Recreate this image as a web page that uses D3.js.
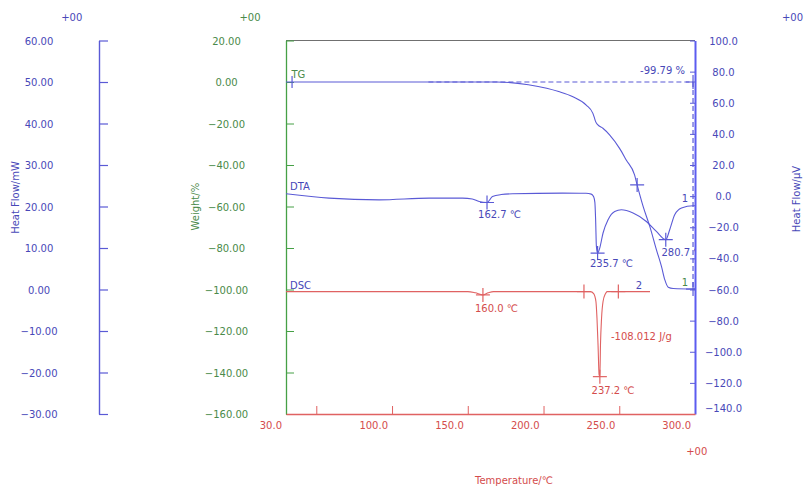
<!DOCTYPE html>
<html><head><meta charset="utf-8">
<script src="https://cdn.jsdelivr.net/npm/d3@7"></script>
<style>
body{margin:0;background:#fff;}
svg{display:block;}
text{font-family:"DejaVu Sans",Verdana,sans-serif;font-size:10px;}
</style></head>
<body><svg id="c" width="804" height="489"></svg>
<script>
// ---- data ----
const tempTickValues = [50, 100, 150, 200, 250, 300];
const tempLabelValues = [30, 100, 150, 200, 250, 300];
const heatFlowMwTicks = [60, 50, 40, 30, 20, 10, 0, -10, -20, -30];
const weightTicks = [20, 0, -20, -40, -60, -80, -100, -120, -140, -160];
const heatFlowUvTicks = [100, 80, 60, 40, 20, 0, -20, -40, -60, -80, -100, -120, -140];

const tgTemp   = [30, 169, 190, 202.1, 210, 219.4, 228.2, 232.6, 233.7, 234.4, 235.9, 239.2, 243.6, 250.2, 254.6, 260.1, 261.8, 265.8, 270.2, 274.6, 277.9, 280.1, 282.3, 285.6, 300];
const tgWeight = [0, 0, -1.3, -3.0, -4.6, -7.1, -11.1, -15.1, -17.5, -19.1, -20.7, -22.3, -25.5, -32.0, -37.6, -44.8, -49.6, -60.1, -69.7, -81.0, -89.0, -95.4, -98.9, -99.5, -99.79];

const dtaTemp   = [30, 58.5, 91.5, 124.5, 146.5, 153, 157.5, 162.7, 166.3, 172, 179.5, 212.5, 228, 231.5, 233.1, 233.9, 234.4, 234.9, 235.7, 237.1, 239.3, 242.6, 247.0, 251.4, 259.1, 267.9, 274.5, 280.7, 283.3, 286.6, 291.1, 298.7, 300];
const dtaSignal = [1.5, -1.3, -2.4, -1.3, -1.3, -1.8, -3.5, -4.1, -0.3, 1.0, 1.5, 1.9, 1.8, 1.3, -0.4, -4, -15.2, -32.3, -36.6, -33.4, -23.7, -15.2, -9.9, -8.8, -10.9, -16.3, -22.7, -28.0, -21.6, -12.0, -7.7, -6.2, -6.2];

const dscTemp   = [30, 150, 155, 160, 163.5, 167, 231, 233.1, 234.6, 235.3, 236.0, 236.7, 237.2, 237.6, 238.3, 239.3, 240.9, 242, 270.3];
const dscSignal = [-0.5, -0.5, -0.8, -1.3, -0.8, -0.5, -0.5, -1.0, -2.9, -7.0, -13.4, -20.6, -21.0, -13.4, -7.0, -2.9, -1.0, -0.5, -0.5];

const dtaPeakTemps  = [162.7, 235.7, 280.7];
const dtaPeakValues = [-4.1, -36.6, -28.0];
const dtaPeakLabels = ["162.7 ℃", "235.7 ℃", "280.7 ℃"];
const dscPeakTemps  = [160.0, 237.2];
const dscPeakValues = [-1.3, -21.0];
const dscPeakLabels = ["160.0 ℃", "237.2 ℃"];
const dscLimitTemps = [226.7, 249.4];
const dscEnthalpy = "-108.012 J/g";
const tgStepTemp = 261.8, tgStepWeight = -49.6;
const tgStart = 0, tgEnd = -99.79, tgMarkTemp = 298.7, tgDashFrom = 124;
const tgLossLabel = "-99.79 %";

// ---- styles ----
const BLUE = "#5a5ad6", BLUE_T = "#4848b8", GREEN = "#46a046", GREEN_T = "#4a8a4a", RED = "#e06262", RED_T = "#d44c4c";

const svg = d3.select("#c");
const L = 286, R = 695, T = 40.5, B = 414;
const x = d3.scaleLinear().domain([30, 300]).range([L, R]);
const yW = d3.scaleLinear().domain([20, -160]).range([T, B]);
const yMW = d3.scaleLinear().domain([60, -30]).range([T, B]);
const yUV = d3.scaleLinear().domain([100, -140]).range([T, B]);

svg.append("defs").append("clipPath").attr("id", "clip")
  .append("rect").attr("x", L).attr("y", T - 20).attr("width", R - L).attr("height", B - T + 20);

// top border
svg.append("line").attr("x1", L).attr("x2", R).attr("y1", T).attr("y2", T).attr("stroke", "#707070").attr("stroke-width", 1.2);

// left heat flow (mW) axis
const gMW = svg.append("g").attr("transform", "translate(99,0)")
  .call(d3.axisRight(yMW).tickValues(heatFlowMwTicks).tickSize(9).tickSizeOuter(0).tickFormat(d3.format(".2f")));
gMW.select(".domain").attr("stroke", BLUE).attr("stroke-width", 1.4);
gMW.selectAll(".tick line").attr("stroke", BLUE).attr("stroke-width", 1.2);
gMW.selectAll(".tick text").attr("fill", BLUE_T).attr("text-anchor", "middle").attr("x", -60).attr("dy", "0.35em").style("font-size", "10px").style("font-family", "DejaVu Sans");

// weight axis
const gW = svg.append("g").attr("transform", `translate(${L},0)`)
  .call(d3.axisRight(yW).tickValues(weightTicks).tickSize(8).tickSizeOuter(0).tickFormat(d3.format(".2f")));
gW.select(".domain").attr("stroke", GREEN).attr("stroke-width", 1.3);
gW.selectAll(".tick line").attr("stroke", GREEN);
gW.selectAll(".tick text").attr("fill", GREEN_T).attr("text-anchor", "middle").attr("x", -59.5).attr("dy", "0.35em").style("font-size", "10px").style("font-family", "DejaVu Sans");

// right heat flow (uV) axis
const gUV = svg.append("g").attr("transform", `translate(${R},0)`)
  .call(d3.axisLeft(yUV).tickValues(heatFlowUvTicks).tickSize(5).tickSizeOuter(0).tickFormat(d3.format(".1f")));
gUV.select(".domain").attr("stroke", "#5c5cf0").attr("stroke-width", 2);
gUV.selectAll(".tick line").attr("stroke", BLUE);
gUV.selectAll(".tick text").attr("fill", BLUE_T).attr("text-anchor", "middle").attr("x", 28.5)
  .attr("dy", d => d === -140 ? "-0.25em" : "0.35em").style("font-size", "10px").style("font-family", "DejaVu Sans");
gUV.selectAll(".tick").filter(d => d === -140).select("line").remove();

// bottom temperature axis
const gX = svg.append("g").attr("transform", `translate(0,${B})`)
  .call(d3.axisTop(x).tickValues(tempTickValues).tickSize(8).tickSizeOuter(0).tickFormat(""));
gX.select(".domain").attr("stroke", RED).attr("stroke-width", 1.4);
gX.selectAll(".tick line").attr("stroke", RED);
gX.selectAll(".tick").filter(d => d === 300).remove();
svg.append("g").selectAll("text").data(tempLabelValues).join("text")
  .attr("x", d => x(d) - 4).attr("y", 425.7).attr("dy", "0.35em").attr("text-anchor", "end")
  .attr("fill", RED_T).text(d => d3.format(".1f")(d));

// axis titles and exponents
svg.append("text").attr("x", 71.7).attr("y", 17.7).attr("dy", "0.35em").attr("text-anchor", "middle").attr("fill", BLUE_T).text("+00");
svg.append("text").attr("x", 250).attr("y", 17.7).attr("dy", "0.35em").attr("text-anchor", "middle").attr("fill", GREEN_T).text("+00");
svg.append("text").attr("x", 803).attr("y", 17.7).attr("dy", "0.35em").attr("text-anchor", "end").attr("fill", BLUE_T).text("+00");
svg.append("text").attr("x", 696.7).attr("y", 451.7).attr("dy", "0.35em").attr("text-anchor", "middle").attr("fill", RED_T).text("+00");
svg.append("text").attr("transform", "translate(15,197.5) rotate(-90)").attr("dy", "0.35em").attr("text-anchor", "middle").attr("fill", BLUE_T).text("Heat Flow/mW");
svg.append("text").attr("transform", "translate(195,206.7) rotate(-90)").attr("dy", "0.35em").attr("text-anchor", "middle").attr("fill", GREEN_T).text("Weight/%");
svg.append("text").attr("transform", "translate(796.7,199) rotate(-90)").attr("dy", "0.35em").attr("text-anchor", "middle").attr("fill", BLUE_T).text("Heat Flow/µV");
svg.append("text").attr("x", 514).attr("y", 484).attr("text-anchor", "middle").attr("fill", RED_T).text("Temperature/℃");

// plot content
const plot = svg.append("g").attr("clip-path", "url(#clip)");
const line = (xs, ys, yScale) => d3.line().curve(d3.curveMonotoneX)
  .x((d, i) => x(xs[i])).y((d, i) => yScale(ys[i]))(xs);

function cross(g, cx, cy, h, color, w) {
  g.append("line").attr("x1", cx - h).attr("x2", cx + h).attr("y1", cy).attr("y2", cy).attr("stroke", color).attr("stroke-width", w || 1.2);
  g.append("line").attr("x1", cx).attr("x2", cx).attr("y1", cy - h).attr("y2", cy + h).attr("stroke", color).attr("stroke-width", w || 1.2);
}

// TG dashed reference lines
plot.append("line").attr("x1", x(tgDashFrom)).attr("x2", x(tgMarkTemp)).attr("y1", yW(tgStart)).attr("y2", yW(tgStart))
  .attr("stroke", BLUE).attr("stroke-dasharray", "5,3").attr("stroke-width", 1.2);
plot.append("line").attr("x1", x(tgMarkTemp)).attr("x2", x(tgMarkTemp)).attr("y1", yW(tgStart)).attr("y2", yW(tgEnd))
  .attr("stroke", BLUE).attr("stroke-dasharray", "5,3").attr("stroke-width", 1.2);
cross(plot, x(tgMarkTemp), yW(tgStart), 7, BLUE);
cross(plot, x(tgMarkTemp), yW(tgEnd), 7, BLUE);
plot.append("line").attr("x1", x(34)).attr("x2", x(34)).attr("y1", yW(tgStart) - 6).attr("y2", yW(tgStart) + 6).attr("stroke", BLUE).attr("stroke-width", 1.2);

// curves
plot.append("path").attr("d", line(tgTemp, tgWeight, yW)).attr("fill", "none").attr("stroke", BLUE).attr("stroke-width", 1.1);
plot.append("path").attr("d", line(dtaTemp, dtaSignal, yUV)).attr("fill", "none").attr("stroke", BLUE).attr("stroke-width", 1.1);
plot.append("path").attr("d", line(dscTemp, dscSignal, yMW)).attr("fill", "none").attr("stroke", RED).attr("stroke-width", 1.1);

// markers
cross(plot, x(tgStepTemp), yW(tgStepWeight), 7, BLUE);
dtaPeakTemps.forEach((t, i) => cross(plot, x(t), yUV(dtaPeakValues[i]), 7, BLUE));
dscPeakTemps.forEach((t, i) => cross(plot, x(t), yMW(dscPeakValues[i]), 7, RED));
dscLimitTemps.forEach(t => cross(plot, x(t), yMW(dscSignal[0]), 7, RED));

// labels
const dtaOff = [[-9, 11.5], [-7.6, 10], [-4.3, 12.7]];
dtaPeakTemps.forEach((t, i) => plot.append("text").attr("x", x(t) + dtaOff[i][0]).attr("y", yUV(dtaPeakValues[i]) + dtaOff[i][1])
  .attr("dy", "0.35em").attr("fill", BLUE_T).text(dtaPeakLabels[i]));
const dscOff = [[-8, 13.3], [-8.3, 14]];
dscPeakTemps.forEach((t, i) => plot.append("text").attr("x", x(t) + dscOff[i][0]).attr("y", yMW(dscPeakValues[i]) + dscOff[i][1])
  .attr("dy", "0.35em").attr("fill", RED_T).text(dscPeakLabels[i]));
plot.append("text").attr("x", 611).attr("y", 336).attr("dy", "0.35em").attr("fill", RED_T).text(dscEnthalpy);
plot.append("text").attr("x", 685).attr("y", 70).attr("dy", "0.35em").attr("text-anchor", "end").attr("fill", BLUE_T).text(tgLossLabel);
plot.append("text").attr("x", 291.5).attr("y", 74.3).attr("dy", "0.35em").attr("fill", GREEN_T).text("TG");
plot.append("text").attr("x", 290).attr("y", 186.7).attr("dy", "0.35em").attr("fill", BLUE_T).text("DTA");
plot.append("text").attr("x", 290).attr("y", 285).attr("dy", "0.35em").attr("fill", BLUE_T).text("DSC");
plot.append("text").attr("x", 688).attr("y", 198.3).attr("dy", "0.35em").attr("text-anchor", "end").attr("fill", BLUE_T).text("1");
plot.append("text").attr("x", 688).attr("y", 282.7).attr("dy", "0.35em").attr("text-anchor", "end").attr("fill", GREEN_T).text("1");
plot.append("text").attr("x", 639).attr("y", 285).attr("dy", "0.35em").attr("text-anchor", "middle").attr("fill", BLUE_T).text("2");
</script></body></html>
